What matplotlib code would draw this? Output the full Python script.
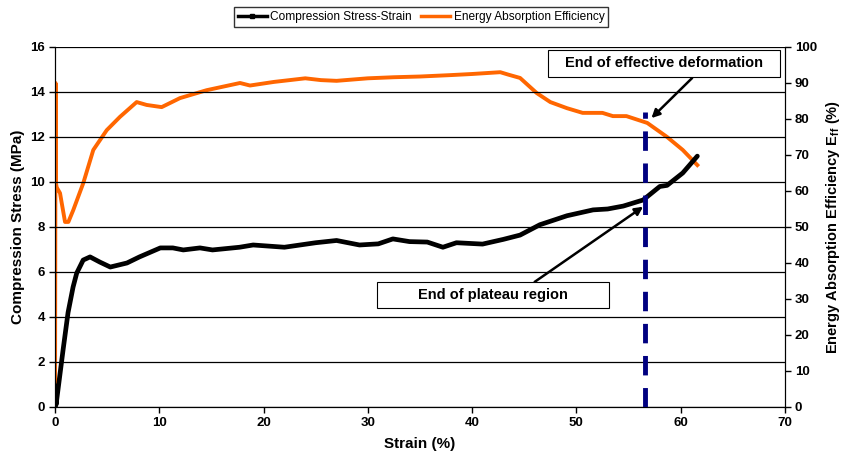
import matplotlib.pyplot as plt
from matplotlib.lines import Line2D
from matplotlib.patches import Rectangle

plt.rcParams['font.family'] = ['Liberation Sans', 'DejaVu Sans']
plt.rcParams['mathtext.fontset'] = 'custom'
plt.rcParams['mathtext.rm'] = 'Liberation Sans:bold'
plt.rcParams['mathtext.bf'] = 'Liberation Sans:bold'

# Compression stress-strain curve (left axis, MPa)
strain_s = [0, 0, 0.1, 0.77, 1.25, 1.73, 2.08, 2.7, 3.36, 4.3, 5.3, 6.9, 8.1,
            10.1, 11.3, 12.3, 13.9, 15.1, 17.7, 19, 22, 25, 27, 29.2, 31,
            32.4, 34, 35.7, 37.2, 38.5, 41.0, 43, 44.6, 46.5, 49.1, 51.6,
            53, 54.5, 56.4, 58.0, 58.7, 60.2, 61.6]
stress = [0, 0.95, 0.1, 2.53, 4.2, 5.33, 5.95, 6.53, 6.67, 6.44, 6.22, 6.4, 6.67,
          7.07, 7.07, 6.98, 7.07, 6.98, 7.1, 7.2, 7.1, 7.3, 7.4, 7.2, 7.25,
          7.47, 7.35, 7.33, 7.1, 7.3, 7.24, 7.45, 7.64, 8.1, 8.5, 8.76,
          8.8, 8.93, 9.2, 9.8, 9.85, 10.4, 11.15]

# Energy absorption efficiency (right axis, %)
strain_e = [0, 0.05, 0.1, 0.16, 0.48, 0.64, 0.96, 1.28, 1.75, 2.71, 3.67, 4.96,
            6.23, 7.83, 8.79, 10.23, 11.98, 14.54, 17.74, 18.7, 21, 24, 25.5,
            27, 30, 32.5, 35, 38, 40, 42.7, 43.5, 44.6, 46.2, 47.5, 49.1,
            50.6, 52.5, 53.5, 54.8, 56.8, 58.7, 60.2, 61.6]
efficiency = [0, 90, 62, 61, 59.4, 56.7, 51.4, 51.4, 54.7, 62.2, 71.4, 76.9,
              80.6, 84.7, 83.9, 83.3, 85.8, 88, 90, 89.3, 90.3, 91.3, 90.8,
              90.6, 91.3, 91.6, 91.8, 92.2, 92.5, 93, 92.3, 91.4, 87.2, 84.7,
              83, 81.7, 81.7, 80.8, 80.8, 78.9, 75, 71.4, 67.2]

end_effective = 56.6
dash_top = 13.1

fig = plt.figure(figsize=(8.44, 4.63), dpi=100)
ax = fig.add_axes([0.0652, 0.121, 0.8648, 0.7775])
ax2 = ax.twinx()

ax.set_zorder(ax2.get_zorder() + 1)
ax.patch.set_visible(False)

ax.set_xlim(0, 70)
ax.set_ylim(0, 16)
ax.set_yticks(range(0, 17, 2))
ax.set_xticks(range(0, 71, 10))
ax2.set_ylim(0, 100)
ax2.set_yticks(range(0, 101, 10))

ax.grid(axis='y', color='black', linewidth=0.9)
ax.set_axisbelow(True)
for a in (ax, ax2):
    a.spines['top'].set_visible(False)
    a.tick_params(labelsize=9.5, width=1, length=4, direction='out', pad=3)
    for lab in a.get_xticklabels() + a.get_yticklabels():
        lab.set_fontweight('bold')

ax2.plot(strain_e, efficiency, color='#ff6600', linewidth=2.8, zorder=2,
         solid_joinstyle='round')
ax.plot(strain_s, stress, color='black', linewidth=3.4, zorder=3,
        solid_joinstyle='round', solid_capstyle='round')
ax.plot([end_effective, end_effective], [0, dash_top], color='#000080',
        linewidth=3.5, linestyle=(0, (4, 2.6)), zorder=4)

ax.set_xlabel('Strain (%)', fontsize=11, fontweight='bold', labelpad=6)
ax.set_ylabel('Compression Stress (MPa)', fontsize=11, fontweight='bold')
ax2.set_ylabel(r'Energy Absorption Efficiency E$_{\mathbf{ff}}$ (%)',
               fontsize=10.5, fontweight='bold', labelpad=5)

arrow = dict(arrowstyle='-|>', color='black', linewidth=1.8, mutation_scale=12,
             shrinkA=0, shrinkB=0)

# annotation boxes
ax.add_patch(Rectangle((47.3, 14.67), 22.2, 1.2, facecolor='white',
                       edgecolor='black', linewidth=0.8, zorder=6))
ax.text(58.4, 15.27, 'End of effective deformation', ha='center', va='center',
        fontsize=10.5, fontweight='bold', zorder=7)
ax.annotate('', xy=(57.2, 12.84), xytext=(61.1, 14.62), arrowprops=arrow, zorder=5)

ax.add_patch(Rectangle((30.9, 4.4), 22.2, 1.16, facecolor='white',
                       edgecolor='black', linewidth=0.8, zorder=6))
ax.text(42.0, 4.98, 'End of plateau region', ha='center', va='center',
        fontsize=10.5, fontweight='bold', zorder=7)
ax.annotate('', xy=(56.4, 8.9), xytext=(46.0, 5.56), arrowprops=arrow, zorder=5)

handles = [Line2D([], [], color='black', linewidth=2.5, marker='s', markersize=3),
           Line2D([], [], color='#ff6600', linewidth=2.5)]
fig.legend(handles, ['Compression Stress-Strain', 'Energy Absorption Efficiency'],
           loc='upper center', bbox_to_anchor=(0.499, 0.997), ncol=2, fontsize=8.6,
           frameon=True, fancybox=False, edgecolor='black', handlelength=2.4,
           handletextpad=0.3, columnspacing=0.8, borderpad=0.3)

fig.savefig('out.png', dpi=100)
